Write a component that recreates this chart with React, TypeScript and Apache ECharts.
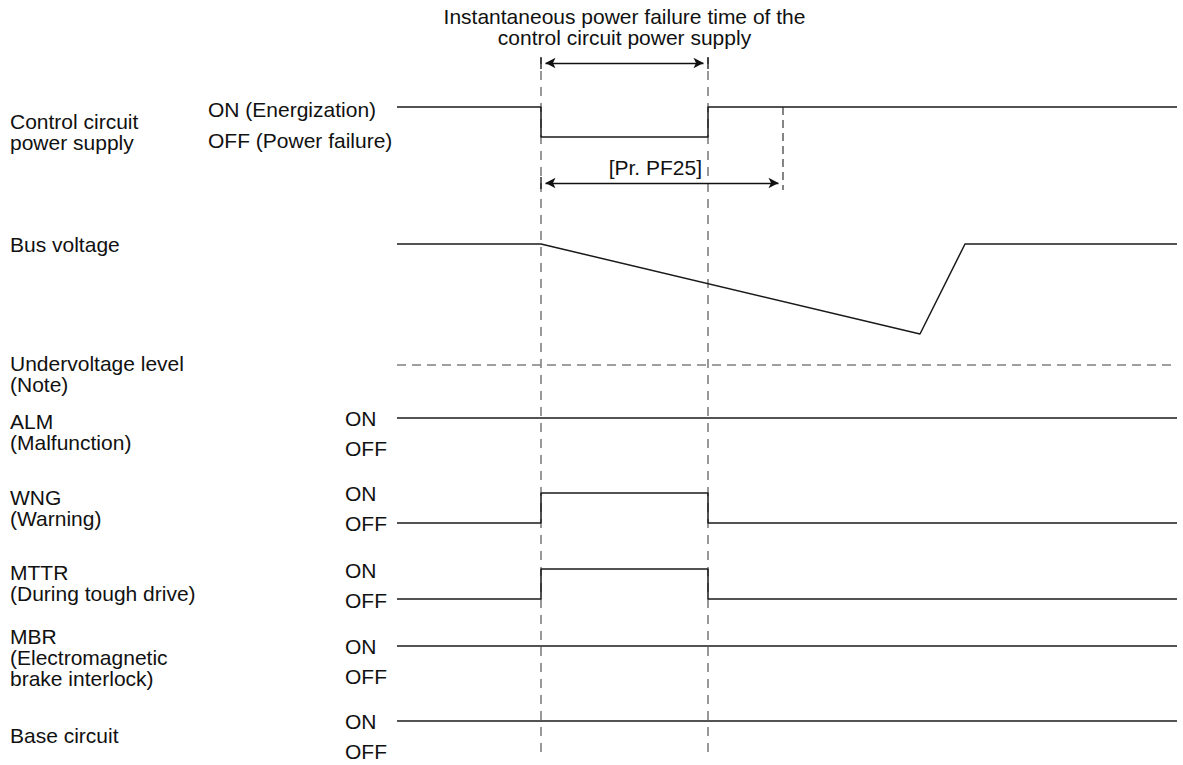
import React, { useEffect, useRef } from "react";
import * as echarts from "echarts";

// ---- time points (arbitrary time units) ----
const T_START = 0;
const T_END = 78;
const T_FAIL = 14.4;
const T_RESTORE = 31.1;
const T_PF25 = 38.6;

// ---- signal waveforms ----
const controlTimes = [T_START, T_FAIL, T_FAIL, T_RESTORE, T_RESTORE, T_END];
const controlLevels = [1, 1, 0, 0, 1, 1];

const busTimes = [T_START, T_FAIL, 52.3, 56.8, T_END];
const busVoltage = [100, 100, 62.8, 100, 100];
const undervoltageLevel = 50;

const almTimes = [T_START, T_END];
const almLevels = [1, 1];
const wngTimes = [T_START, T_FAIL, T_FAIL, T_RESTORE, T_RESTORE, T_END];
const wngLevels = [0, 0, 1, 1, 0, 0];
const mttrTimes = [T_START, T_FAIL, T_FAIL, T_RESTORE, T_RESTORE, T_END];
const mttrLevels = [0, 0, 1, 1, 0, 0];
const mbrTimes = [T_START, T_END];
const mbrLevels = [1, 1];
const baseTimes = [T_START, T_END];
const baseLevels = [1, 1];

// ---- texts ----
const titleText = "Instantaneous power failure time of the\ncontrol circuit power supply";
const pf25Label = "[Pr. PF25]";
const signalNames = [
  "Control circuit\npower supply",
  "Bus voltage",
  "Undervoltage level\n(Note)",
  "ALM\n(Malfunction)",
  "WNG\n(Warning)",
  "MTTR\n(During tough drive)",
  "MBR\n(Electromagnetic\nbrake interlock)",
  "Base circuit",
];
const controlStateLabels = ["ON (Energization)", "OFF (Power failure)"];
const stateLabels = ["ON", "OFF"];

const zip = (ts: number[], vs: number[]) => ts.map((t, i) => [t, vs[i]]);

export default function App() {
  const ref = useRef<HTMLDivElement>(null);

  useEffect(() => {
    document.body.style.margin = "0";
    if (!ref.current) return;
    const chart = echarts.init(ref.current, undefined, { renderer: "svg" });

    const FONT = '"Liberation Sans", Arial, sans-serif';
    const FS = 21;
    const LH = 21;
    const INK = "#111";
    const SIG = "#1a1a1a";
    const GRAY = "#808080";
    const LEFT = 397;
    const WIDTH = 780;

    // layout of the stacked rows (pixel positions)
    const ctrlOn = 107, ctrlOff = 137, ctrlTop = 58, ctrlBottom = 190;
    const unit = ctrlOff - ctrlOn;
    const ctrlMax = (ctrlOff - ctrlTop) / unit;
    const ctrlMin = -(ctrlBottom - ctrlOff) / unit;
    const lvl = (py: number) => (ctrlOff - py) / unit;

    const layouts = [
      { top: 58, height: 694, min: 0, max: 1 }, // overlay for long dashed guides
      { top: ctrlTop, height: ctrlBottom - ctrlTop, min: ctrlMin, max: ctrlMax },
      { top: 244, height: 121, min: undervoltageLevel, max: 100 },
      { top: 418, height: 30, min: 0, max: 1 },
      { top: 493, height: 30, min: 0, max: 1 },
      { top: 569, height: 30, min: 0, max: 1 },
      { top: 646, height: 30, min: 0, max: 1 },
      { top: 721, height: 30, min: 0, max: 1 },
    ];

    const grid = layouts.map((l) => ({ left: LEFT, width: WIDTH, top: l.top, height: l.height, show: false }));
    const xAxis = layouts.map((_, i) => ({ type: "value", gridIndex: i, min: T_START, max: T_END, show: false }));
    const yAxis = layouts.map((l, i) => ({ type: "value", gridIndex: i, min: l.min, max: l.max, show: false }));

    const solid = (idx: number, data: number[][], width = 1.5, color = SIG) => ({
      type: "line",
      xAxisIndex: idx,
      yAxisIndex: idx,
      data,
      symbol: "none",
      silent: true,
      clip: false,
      lineStyle: { color, width },
    });

    const dashed = (idx: number, data: number[][], color: string, width: number, dash: number[]) => ({
      type: "line",
      xAxisIndex: idx,
      yAxisIndex: idx,
      data,
      symbol: "none",
      silent: true,
      clip: false,
      lineStyle: { color, width, type: dash },
    });

    const arrowY1 = lvl(63);
    const arrowY2 = lvl(183);
    const arrowInset = 0.45;

    const controlSeries: any = solid(1, zip(controlTimes, controlLevels));
    controlSeries.markLine = {
      silent: true,
      symbol: ["arrow", "arrow"],
      symbolSize: [8, 10],
      label: { show: false },
      lineStyle: { color: INK, width: 1.3, type: "solid" },
      emphasis: { disabled: true },
      data: [
        [{ coord: [T_FAIL + arrowInset, arrowY1] }, { coord: [T_RESTORE - arrowInset, arrowY1] }],
        [{ coord: [T_FAIL + arrowInset, arrowY2] }, { coord: [T_PF25 - arrowInset, arrowY2] }],
      ],
    };

    const series: any[] = [
      dashed(0, [[T_FAIL, 0], [T_FAIL, 1]], GRAY, 1.6, [9, 7]),
      dashed(0, [[T_RESTORE, 0], [T_RESTORE, 1]], GRAY, 1.6, [9, 7]),
      controlSeries,
      solid(1, [[T_FAIL, lvl(57)], [T_FAIL, lvl(69)]], 1.3, INK),
      solid(1, [[T_RESTORE, lvl(57)], [T_RESTORE, lvl(69)]], 1.3, INK),
      solid(1, [[T_FAIL, lvl(177)], [T_FAIL, lvl(189)]], 1.3, INK),
      dashed(1, [[T_PF25, 1], [T_PF25, ctrlMin]], "#222", 1.1, [8, 5]),
      solid(2, zip(busTimes, busVoltage)),
      dashed(2, [[T_START, undervoltageLevel], [T_END, undervoltageLevel]], GRAY, 1.5, [9, 6]),
      solid(3, zip(almTimes, almLevels)),
      solid(4, zip(wngTimes, wngLevels)),
      solid(5, zip(mttrTimes, mttrLevels)),
      solid(6, zip(mbrTimes, mbrLevels)),
      solid(7, zip(baseTimes, baseLevels)),
    ];

    const txt = (text: string, x: number, y: number, align = "left") => ({
      type: "text",
      silent: true,
      style: {
        text,
        x,
        y,
        font: `${FS}px ${FONT}`,
        fontSize: FS,
        fontFamily: FONT,
        fill: INK,
        align,
        textAlign: align,
        verticalAlign: "middle",
        textVerticalAlign: "middle",
        lineHeight: LH,
      },
    });

    const nameY = [131.5, 244, 374, 432, 507.5, 583, 657.5, 735];
    const onOffRows = [
      [418.5, 448.5],
      [493.5, 523.5],
      [570, 600],
      [646, 676],
      [721, 751],
    ];

    const graphic: any[] = [
      txt(titleText, (LEFT + WIDTH * (T_FAIL + T_RESTORE) / 2 / T_END), 27, "center"),
      txt(pf25Label, 702, 167, "right"),
      txt(controlStateLabels[0], 208, 109.5, "left"),
      txt(controlStateLabels[1], 208, 140, "left"),
      ...signalNames.map((n, i) => txt(n, 10, nameY[i], "left")),
      ...onOffRows.flatMap(([on, off]) => [txt(stateLabels[0], 345, on), txt(stateLabels[1], 345, off)]),
    ];

    chart.setOption({
      animation: false,
      backgroundColor: "#ffffff",
      grid,
      xAxis,
      yAxis,
      series,
      graphic,
    });

    return () => chart.dispose();
  }, []);

  return (
    <div
      ref={ref}
      style={{ position: "absolute", left: 0, top: 0, width: 1183, height: 765, background: "#fff" }}
    />
  );
}
